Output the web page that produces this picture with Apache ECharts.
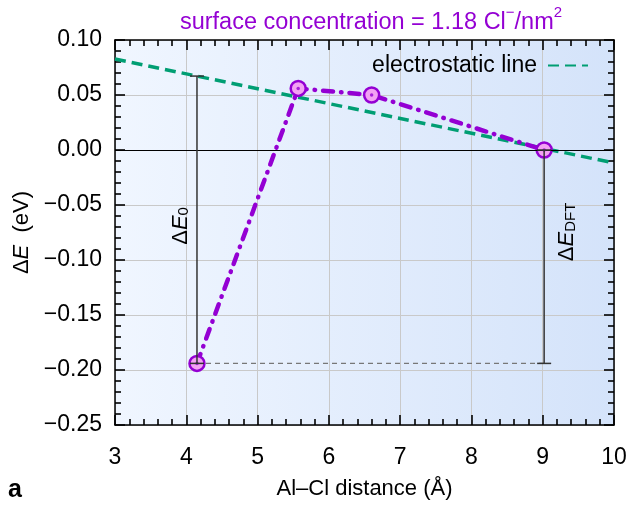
<!DOCTYPE html>
<html><head><meta charset="utf-8">
<script src="https://cdn.jsdelivr.net/npm/echarts@6/dist/echarts.min.js"></script>
<style>html,body{margin:0;padding:0;background:#fff}#c{width:630px;height:506px}</style>
</head><body><div id="c"></div><script>
// ---- data ----
const distances = [4.15, 5.57, 6.6, 9.02];
const energies = [-0.194, 0.056, 0.050, 0.0];
const electroX = [3, 10];
const electroY = [0.0827, -0.0118];
const dE0Bar = [4.15, -0.194, 0.0672];
const dEDftBar = [9.02, -0.194, 0.0];
const refLineX = [4.15, 9.02];
const refLineY = [-0.194, -0.194];
const xRange = [3, 10], xStep = 1;
const yRange = [-0.25, 0.10], yStep = 0.05;

// ---- style ----
const FONT = "'Liberation Sans', Arial, sans-serif";
const PURPLE = '#9400d3';
const GREEN = '#009e73';
const labelAnchors = { dE0: [3.92, -0.069], dEDft: [9.34, -0.0745] };

const chart = echarts.init(document.getElementById('c'));
const fmtY = v => (v < -1e-9 ? '\u2212' : '') + Math.abs(v).toFixed(2);

function xAx(pos, main) {
  return {
    type: 'value', min: xRange[0], max: xRange[1], interval: xStep, position: pos,
    axisLine: { show: true, onZero: false, lineStyle: { color: '#000', width: 1.5 } },
    axisTick: { show: true, inside: true, length: 10, lineStyle: { color: '#000', width: 1.6 } },
    minorTick: { show: true, splitNumber: 5, length: 6, lineStyle: { color: '#000', width: 1.6 } },
    splitLine: { show: main, lineStyle: { color: '#c9c9c9', width: 1 } },
    axisLabel: { show: main, fontSize: 23, color: '#000', fontFamily: FONT, margin: 21 },
    name: main ? 'Al\u2013Cl distance (\u00c5)' : '', nameLocation: 'middle', nameGap: 53,
    nameTextStyle: { fontSize: 22, color: '#000', fontFamily: FONT }
  };
}
function yAx(pos, main) {
  return {
    type: 'value', min: yRange[0], max: yRange[1], interval: yStep, position: pos,
    axisLine: { show: true, onZero: false, lineStyle: { color: '#000', width: 1.5 } },
    axisTick: { show: true, inside: true, length: 10, lineStyle: { color: '#000', width: 1.6 } },
    minorTick: { show: true, splitNumber: 5, length: 6, lineStyle: { color: '#000', width: 1.6 } },
    splitLine: { show: main, lineStyle: { color: '#c9c9c9', width: 1 } },
    axisLabel: { show: main, fontSize: 23, color: '#000', fontFamily: FONT, margin: 13, formatter: fmtY },
    name: main ? '{a|\u0394}{i|E}{a|  (eV)}' : '', nameLocation: 'middle', nameGap: 74,
    nameTextStyle: { fontSize: 22, color: '#000', fontFamily: FONT,
      rich: { a: { fontSize: 22, fontFamily: FONT, color: '#000' },
              i: { fontSize: 22, fontFamily: FONT, color: '#000', fontStyle: 'italic' } } }
  };
}

const option = {
  animation: false,
  textStyle: { fontFamily: FONT },
  title: {
    text: '{a|surface concentration = 1.18 Cl}{s|\u2212}{a|/nm}{s|2}',
    left: 366, top: 0, textAlign: 'center',
    textStyle: { fontWeight: 'normal', rich: {
      a: { fontSize: 23.5, fontWeight: 'normal', color: PURPLE, fontFamily: FONT, lineHeight: 30, verticalAlign: 'bottom' },
      s: { fontSize: 15, fontWeight: 'normal', color: PURPLE, fontFamily: FONT, lineHeight: 18, verticalAlign: 'top' } } }
  },
  legend: {
    data: ['electrostatic line'], right: 36, top: 49, align: 'right',
    itemWidth: 40, itemHeight: 12, itemGap: 10,
    itemStyle: { opacity: 0 },
    textStyle: { fontSize: 23, color: '#000', fontFamily: FONT, padding: [0, 6, 0, 0] }
  },
  grid: { left: 115, right: 16, top: 40, bottom: 81 },
  xAxis: [xAx('bottom', true), xAx('top', false)],
  yAxis: [yAx('left', true), yAx('right', false)],
  series: [
    {
      name: 'zero', type: 'line', data: [], silent: true,
      markLine: { silent: true, symbol: ['none', 'none'], label: { show: false },
        lineStyle: { color: '#000', width: 1.2, type: 'solid' }, data: [{ yAxis: 0 }] },
      z: 2
    },
    {
      name: 'ref', type: 'line', silent: true, symbol: 'none',
      data: refLineX.map((x, i) => [x, refLineY[i]]),
      lineStyle: { color: '#777', width: 1.2, type: [5, 4] }, z: 2
    },
    {
      name: 'electrostatic line', type: 'line', symbol: 'none',
      data: electroX.map((x, i) => [x, electroY[i]]),
      lineStyle: { color: GREEN, width: 3.5, type: [11, 6] },
      itemStyle: { color: GREEN }, z: 3
    },
    {
      name: 'DFT', type: 'line', symbol: 'circle', symbolSize: 15,
      data: distances.map((x, i) => [x, energies[i]]),
      lineStyle: { color: PURPLE, width: 4.5, type: [10, 8, 0.5, 8], cap: 'round' },
      itemStyle: { color: '#f3a2f3', borderColor: PURPLE, borderWidth: 2.5 }, z: 4
    },
    {
      name: 'dots', type: 'scatter', symbolSize: 3.5,
      data: distances.map((x, i) => [x, energies[i]]),
      itemStyle: { color: PURPLE }, z: 5
    },
    {
      name: 'bars', type: 'custom', z: 6, silent: true,
      data: [dE0Bar, dEDftBar],
      encode: { x: 0, y: [1, 2] },
      renderItem: function (params, api) {
        const x = api.value(0);
        const lo = api.coord([x, api.value(1)]);
        const hi = api.coord([x, api.value(2)]);
        const c = 7;
        const st = { stroke: '#333', lineWidth: 1.5 };
        return { type: 'group', children: [
          { type: 'line', shape: { x1: lo[0], y1: lo[1], x2: hi[0], y2: hi[1] }, style: st },
          { type: 'line', shape: { x1: lo[0] - c, y1: lo[1], x2: lo[0] + c, y2: lo[1] }, style: st },
          { type: 'line', shape: { x1: hi[0] - c, y1: hi[1], x2: hi[0] + c, y2: hi[1] }, style: st }
        ] };
      }
    }
  ]
};
chart.setOption(option);

const toPx = p => chart.convertToPixel({ xAxisIndex: 0, yAxisIndex: 0 }, p);
const tl = toPx([xRange[0], yRange[1]]);
const br = toPx([xRange[1], yRange[0]]);
const p0 = toPx(labelAnchors.dE0);
const p1 = toPx(labelAnchors.dEDft);
const rich = {
  d: { fontSize: 22, fontFamily: FONT, fill: '#000', lineHeight: 22 },
  e: { fontSize: 22, fontFamily: FONT, fill: '#000', fontStyle: 'italic', lineHeight: 22 },
  s: { fontSize: 15, fontFamily: FONT, fill: '#000', lineHeight: 10, verticalAlign: 'bottom' }
};
chart.setOption({
  graphic: [
    { type: 'rect', z: -100, silent: true,
      shape: { x: tl[0], y: tl[1], width: br[0] - tl[0], height: br[1] - tl[1] },
      style: { fill: new echarts.graphic.LinearGradient(0, 0, 1, 0,
        [{ offset: 0, color: '#f0f6ff' }, { offset: 1, color: '#d4e3fa' }]) } },
    { type: 'text', x: p0[0], y: p0[1], rotation: Math.PI / 2, z: 10,
      style: { text: '{d|\u0394}{e|E}{s|0}', rich: rich, align: 'center', verticalAlign: 'middle' } },
    { type: 'text', x: p1[0], y: p1[1], rotation: Math.PI / 2, z: 10,
      style: { text: '{d|\u0394}{e|E}{s|DFT}', rich: rich, align: 'center', verticalAlign: 'middle' } },
    { type: 'text', left: 8, top: 478, z: 10,
      style: { text: 'a', fontSize: 25, fontWeight: 'bold', fontFamily: FONT, fill: '#000' } }
  ]
});
</script></body></html>
